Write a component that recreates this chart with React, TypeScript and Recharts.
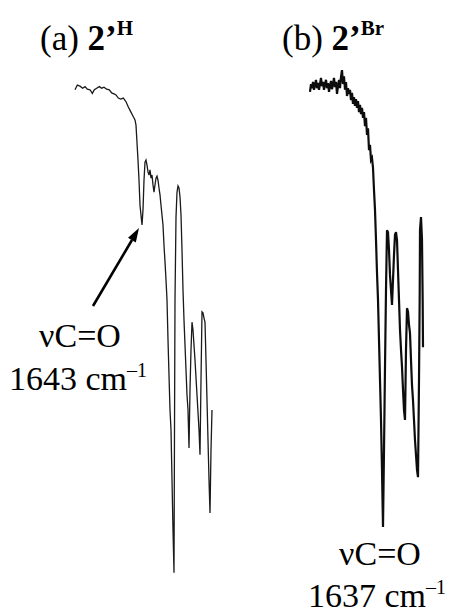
import React from 'react';
import { LineChart, Line, XAxis, YAxis } from 'recharts';

// (a) 2'H : wavenumber (cm-1) and transmittance (%)
const wnA = [
  1844, 1837, 1829, 1821, 1814, 1807, 1799, 1792, 1786, 1779, 1771, 1764, 1757, 1749, 1741, 1734,
  1727, 1721, 1714, 1707, 1699, 1691, 1684, 1677, 1669, 1664, 1661, 1658, 1655, 1652, 1649, 1646,
  1643, 1640, 1637, 1634, 1631, 1628, 1625, 1622, 1619, 1616, 1613, 1610, 1607, 1604, 1601, 1598,
  1595, 1592, 1589, 1586, 1583, 1580, 1577, 1574, 1571, 1568, 1565, 1562, 1559, 1556, 1553, 1550,
  1547, 1545.5, 1544, 1541, 1538, 1535, 1532, 1529, 1526, 1523, 1520, 1517, 1514, 1511, 1508, 1505,
  1502, 1499, 1496, 1493, 1490, 1484, 1478, 1472, 1469, 1466, 1463, 1460, 1457, 1454, 1451, 1448,
  1445, 1442, 1439, 1436, 1433,
];
const tA = [
  96.2, 97.1, 96.9, 96.5, 96.8, 96.3, 96.2, 95.5, 96.2, 96.5, 96.8, 96.5, 96.7, 96.3, 96.2, 95.6,
  95.4, 95.2, 94.6, 94.4, 94.6, 93.9, 92.9, 92.0, 91.0, 90.4, 89.4, 86.0, 82.7, 78.8, 74.0, 72.1,
  70.2, 73.1, 78.8, 82.3, 82.7, 81.7, 80.4, 79.8, 80.8, 79.2, 79.8, 77.9, 76.5, 77.9, 79.2, 79.6,
  78.8, 77.3, 76.0, 74.0, 72.1, 70.2, 66.3, 63.1, 59.6, 55.8, 48.1, 41.3, 34.6, 30.8, 21.2, 11.5,
  3.3, 30.8, 55.8, 71.7, 76.5, 77.7, 77.3, 75.6, 72.1, 65.4, 57.7, 51.9, 47.1, 42.3, 37.5, 34.6,
  27.3, 38.5, 46.2, 51.5, 50.0, 44.2, 37.5, 30.8, 26.0, 40.4, 53.5, 53.3, 52.3, 51.5, 44.2, 36.5,
  28.8, 21.2, 14.8, 26.9, 34.6,
];

// (b) 2'Br
const wnB = [
  1856, 1853, 1850, 1847, 1844, 1841, 1838, 1835, 1832, 1829, 1826, 1823, 1820, 1817, 1814, 1811,
  1808, 1805, 1802, 1799, 1796, 1793, 1790, 1787, 1784, 1781, 1778, 1775, 1772, 1769, 1766, 1763,
  1760, 1757, 1754, 1751, 1748, 1745, 1742, 1739, 1736, 1733, 1730, 1727, 1724, 1721, 1718, 1715,
  1712, 1709, 1706, 1703, 1700, 1697, 1694, 1691, 1688, 1685, 1682, 1679, 1676, 1673, 1670, 1667,
  1664, 1661, 1658, 1655, 1652, 1649, 1646, 1643, 1640, 1637, 1634, 1631, 1628, 1625, 1622, 1619,
  1616, 1613, 1610, 1607, 1604, 1601, 1598, 1595, 1592, 1589, 1586, 1583, 1580, 1577, 1574, 1571,
  1568, 1565, 1562, 1559, 1556, 1553, 1550, 1547, 1544, 1541, 1538, 1535, 1532, 1529, 1527, 1526,
  1523, 1520, 1518, 1517,
];
const tB = [
  95.8, 97.3, 96.5, 97.7, 96.2, 97.1, 98.1, 96.5, 97.5, 96.2, 97.3, 98.5, 96.9, 97.7, 96.2, 97.3,
  98.1, 96.5, 97.5, 95.8, 96.9, 97.9, 96.3, 97.3, 98.5, 96.7, 97.7, 95.4, 96.9, 98.1, 96.5, 98.7,
  100.0, 97.3, 98.8, 96.2, 97.7, 95.0, 96.5, 95.4, 96.2, 94.2, 95.6, 93.5, 94.8, 93.1, 94.4, 92.7,
  94.0, 91.9, 93.3, 91.5, 92.7, 90.8, 91.9, 89.2, 90.8, 87.5, 88.8, 84.6, 85.6, 82.7, 83.1, 81.2,
  76.9, 73.1, 67.3, 61.0, 55.8, 48.1, 40.4, 32.7, 23.1, 12.1, 26.9, 42.9, 57.7, 69.2, 68.8, 65.4,
  60.6, 57.7, 54.8, 59.6, 64.4, 68.3, 68.8, 67.3, 61.5, 55.8, 50.0, 46.2, 42.9, 38.5, 34.6, 32.7,
  46.2, 54.2, 53.5, 51.0, 49.4, 44.2, 39.4, 36.5, 32.7, 28.8, 26.0, 23.1, 21.7, 40.4, 55.8, 69.2,
  71.7, 67.3, 55.8, 46.7,
];

const dataA = wnA.map((wn, i) => ({ wn, t: tA[i] }));
const dataB = wnB.map((wn, i) => ({ wn, t: tB[i] }));

const W = 458;
const H = 615;
const serif = '"Liberation Serif", "Times New Roman", serif';

const App = () => {
  return (
    <div style={{ position: 'absolute', left: 0, top: 0, width: W, height: H, background: '#fff' }}>
      <LineChart width={W} height={H} margin={{ top: 70, right: 0, bottom: 25, left: 0 }}>
        <XAxis xAxisId="a" dataKey="wn" type="number" domain={[695, 2069]} reversed allowDataOverflow hide />
        <XAxis xAxisId="b" dataKey="wn" type="number" domain={[1412, 2786]} reversed allowDataOverflow hide />
        <YAxis type="number" domain={[0, 100]} allowDataOverflow hide />
        <Line xAxisId="a" data={dataA} dataKey="t" type="linear" stroke="#1a1a1a" strokeWidth={1.3} dot={false} isAnimationActive={false} />
        <Line xAxisId="b" data={dataB} dataKey="t" type="linear" stroke="#0d0d0d" strokeWidth={2.2} dot={false} isAnimationActive={false} />
      </LineChart>

      <svg width={W} height={H} style={{ position: 'absolute', left: 0, top: 0, pointerEvents: 'none' }}>
        <g fontFamily={serif} fill="#000">
          <text x={40} y={50} fontSize={35}>
            (a) <tspan fontWeight="bold">2’</tspan>
            <tspan fontWeight="bold" fontSize={21} dy={-15}>H</tspan>
          </text>
          <text x={282} y={50} fontSize={35}>
            (b) <tspan fontWeight="bold">2’</tspan>
            <tspan fontWeight="bold" fontSize={21} dy={-15}>Br</tspan>
          </text>

          <text x={80} y={347} fontSize={34} textAnchor="middle">νC=O</text>
          <text x={78} y={390} fontSize={34} textAnchor="middle">
            1643 cm<tspan fontSize={20} dy={-13}>–1</tspan>
          </text>

          <text x={380} y={565} fontSize={34} textAnchor="middle">νC=O</text>
          <text x={377} y={607} fontSize={34} textAnchor="middle">
            1637 cm<tspan fontSize={20} dy={-13}>–1</tspan>
          </text>
        </g>
        <line x1={93} y1={306} x2={132} y2={240} stroke="#000" strokeWidth={2.6} />
        <polygon points="139,228 135.8,242.4 128,237.8" fill="#000" />
      </svg>
    </div>
  );
};

export default App;
